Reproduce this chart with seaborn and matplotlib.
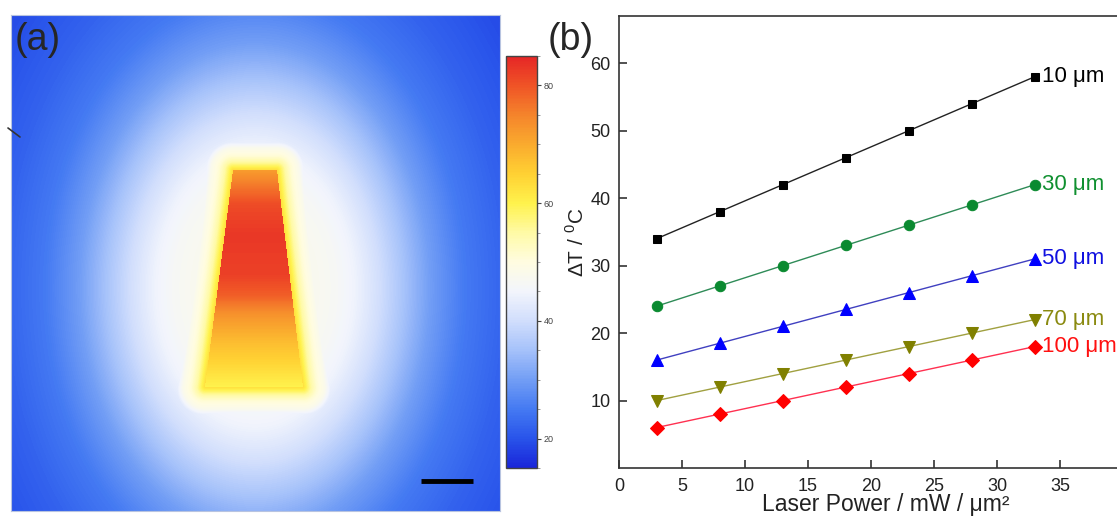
import numpy as np
import seaborn as sns
import matplotlib.pyplot as plt
from matplotlib.colors import LinearSegmentedColormap
from matplotlib.lines import Line2D
from matplotlib.ticker import MultipleLocator

# --- panel (b) data: temperature rise vs laser power ---
power = [3, 8, 13, 18, 23, 28, 33]
dt_10 = [34, 38, 42, 46, 50, 54, 58]
dt_30 = [24, 27, 30, 33, 36, 39, 42]
dt_50 = [16, 18.5, 21, 23.5, 26, 28.5, 31]
dt_70 = [10, 12, 14, 16, 18, 20, 22]
dt_100 = [6, 8, 10, 12, 14, 16, 18]
series_names = ["10 μm", "30 μm", "50 μm", "70 μm", "100 μm"]

# --- panel (a) data: simulated temperature map (pixel units of the map) ---
map_w, map_h = 489, 496
core_edge_y = [155, 372]          # top / bottom of the hot core
core_left = [222, 194]
core_right = [266, 292]
core_y = [155, 170, 190, 220, 260, 280, 300, 325, 350, 372]
core_temp = [72, 76, 81, 83, 82, 79, 73, 68, 64, 60]
# thin yellow rim around the core (distance from core edge)
rim_dist = [0, 4, 8, 14, 22, 32, 45]
rim_temp = [63, 59, 55, 51, 48, 40, 0]
# elliptical halo around the centre
halo_cx, halo_cy, halo_aspect = 244, 273, 1.4
halo_r = [0, 60, 80, 100, 125, 150, 175, 210, 250, 300, 360]
halo_temp = [48, 47.5, 46.5, 44.5, 40, 35, 30, 25, 22, 19.5, 17]
cbar_ticks = [20, 40, 60, 80]

# colour map
cmap_stops = [15, 20, 25, 30, 35, 40, 45, 50, 55, 60, 65, 70, 75, 80, 85]
cmap_cols = [(0.10, 0.15, 0.85), (0.16, 0.33, 0.92), (0.27, 0.48, 0.95),
             (0.45, 0.62, 0.96), (0.65, 0.76, 0.98), (0.82, 0.87, 0.99),
             (0.95, 0.96, 0.99), (1.00, 0.99, 0.88), (1.00, 0.98, 0.65),
             (1.00, 0.95, 0.30), (1.00, 0.82, 0.20), (0.98, 0.67, 0.18),
             (0.96, 0.52, 0.17), (0.94, 0.33, 0.15), (0.90, 0.15, 0.15)]
vmin, vmax = cmap_stops[0], cmap_stops[-1]
temp_cmap = LinearSegmentedColormap.from_list(
    "temp", [((s - vmin) / (vmax - vmin), c) for s, c in zip(cmap_stops, cmap_cols)])

sns.set_style("white")
plt.rcParams["font.family"] = ["Liberation Sans", "DejaVu Sans"]
plt.rcParams["mathtext.fontset"] = "custom"
plt.rcParams["mathtext.rm"] = "Liberation Sans"

fig = plt.figure(figsize=(11.17, 5.21), dpi=100)
ax_a = fig.add_axes([11 / 1117, 1 - 511 / 521, 489 / 1117, 496 / 521])
cax = fig.add_axes([506 / 1117, 1 - 468 / 521, 31 / 1117, 412 / 521])
ax_b = fig.add_axes([619 / 1117, 1 - 468 / 521, 504 / 1117, 452 / 521])

# build the map from the read profiles
X, Y = np.meshgrid(np.arange(map_w) + 0.5, np.arange(map_h) + 0.5)
yc = np.clip(Y, core_edge_y[0], core_edge_y[1])
L = np.interp(yc, core_edge_y, core_left)
R = np.interp(yc, core_edge_y, core_right)
dx = np.maximum(np.maximum(L - X, X - R), 0)
dy = np.maximum(np.maximum(core_edge_y[0] - Y, Y - core_edge_y[1]), 0)
d = np.hypot(dx, dy)
r = np.hypot(X - halo_cx, (Y - halo_cy) / halo_aspect)
outside = np.maximum(np.interp(d, rim_dist, rim_temp), np.interp(r, halo_r, halo_temp))
field = np.where(d == 0, np.interp(Y, core_y, core_temp), outside)

sns.heatmap(field, ax=ax_a, cmap=temp_cmap, vmin=vmin, vmax=vmax, cbar_ax=cax,
            xticklabels=False, yticklabels=False, rasterized=True)
for s in ax_a.spines.values():
    s.set_visible(True)
    s.set_color("#b8c4e0")
    s.set_linewidth(0.8)
ax_a.plot([0.838, 0.945], [0.0605, 0.0605], color="black", lw=3.5,
          transform=ax_a.transAxes, solid_capstyle="butt")
fig.text(15 / 1117, 1 - 22 / 521, "(a)", fontsize=27, va="top", ha="left")
fig.add_artist(Line2D([8 / 1117, 20 / 1117], [1 - 128 / 521, 1 - 137 / 521],
                      color="#333333", lw=1.2))

cb = ax_a.collections[0].colorbar
cb.outline.set_linewidth(1.0)
cb.outline.set_edgecolor("#444444")
cax.yaxis.set_major_locator(plt.FixedLocator(cbar_ticks))
cax.yaxis.set_minor_locator(MultipleLocator(5))
cax.tick_params(which="major", labelsize=6.5, length=3, width=0.8, colors="#444444", pad=2)
cax.tick_params(which="minor", length=2, width=0.6, colors="#888888")
cax.yaxis.set_ticks_position("right")

# panel (b)
styles = [("s", "#222222", "#000000", "#000000", 6),
          ("o", "#2e8b57", "#0a8a30", "#109030", 7.5),
          ("^", "#4040c0", "#0000ff", "#1010e0", 8),
          ("v", "#a0a040", "#808000", "#8a8a10", 8),
          ("D", "#ff3050", "#ff0000", "#ff1010", 7)]
for vals, name, (mk, lc, mc, tc, ms) in zip([dt_10, dt_30, dt_50, dt_70, dt_100], series_names, styles):
    sns.lineplot(x=power, y=vals, ax=ax_b, color=lc, lw=1.0, marker=mk, markersize=ms,
                 markerfacecolor=mc, markeredgecolor=mc)
    ax_b.text(power[-1] + 0.55, vals[-1], name, color=tc, fontsize=16, ha="left", va="center")

ax_b.set_xlim(0, 40)
ax_b.set_ylim(0, 67)
ax_b.set_xticks([0, 5, 10, 15, 20, 25, 30, 35])
ax_b.set_yticks([10, 20, 30, 40, 50, 60])
for side in ["left", "bottom", "top"]:
    ax_b.spines[side].set_linewidth(1.2)
    ax_b.spines[side].set_color("#333333")
ax_b.spines["right"].set_visible(False)
ax_b.tick_params(axis="both", direction="in", length=6, width=1.1, labelsize=13, colors="#222222")
ax_b.tick_params(axis="x", pad=7, bottom=True)
ax_b.tick_params(axis="y", pad=6, left=True)
ax_b.set_xlabel("Laser Power / mW / μm²", fontsize=16.5, color="#222222")
ax_b.xaxis.set_label_coords(0.53, -0.056)
ax_b.set_ylabel(r"ΔT / $^{0}$C", fontsize=15, color="#222222", labelpad=2)
fig.text(548 / 1117, 1 - 22 / 521, "(b)", fontsize=27, va="top", ha="left")

fig.savefig("out.png", dpi=100)
